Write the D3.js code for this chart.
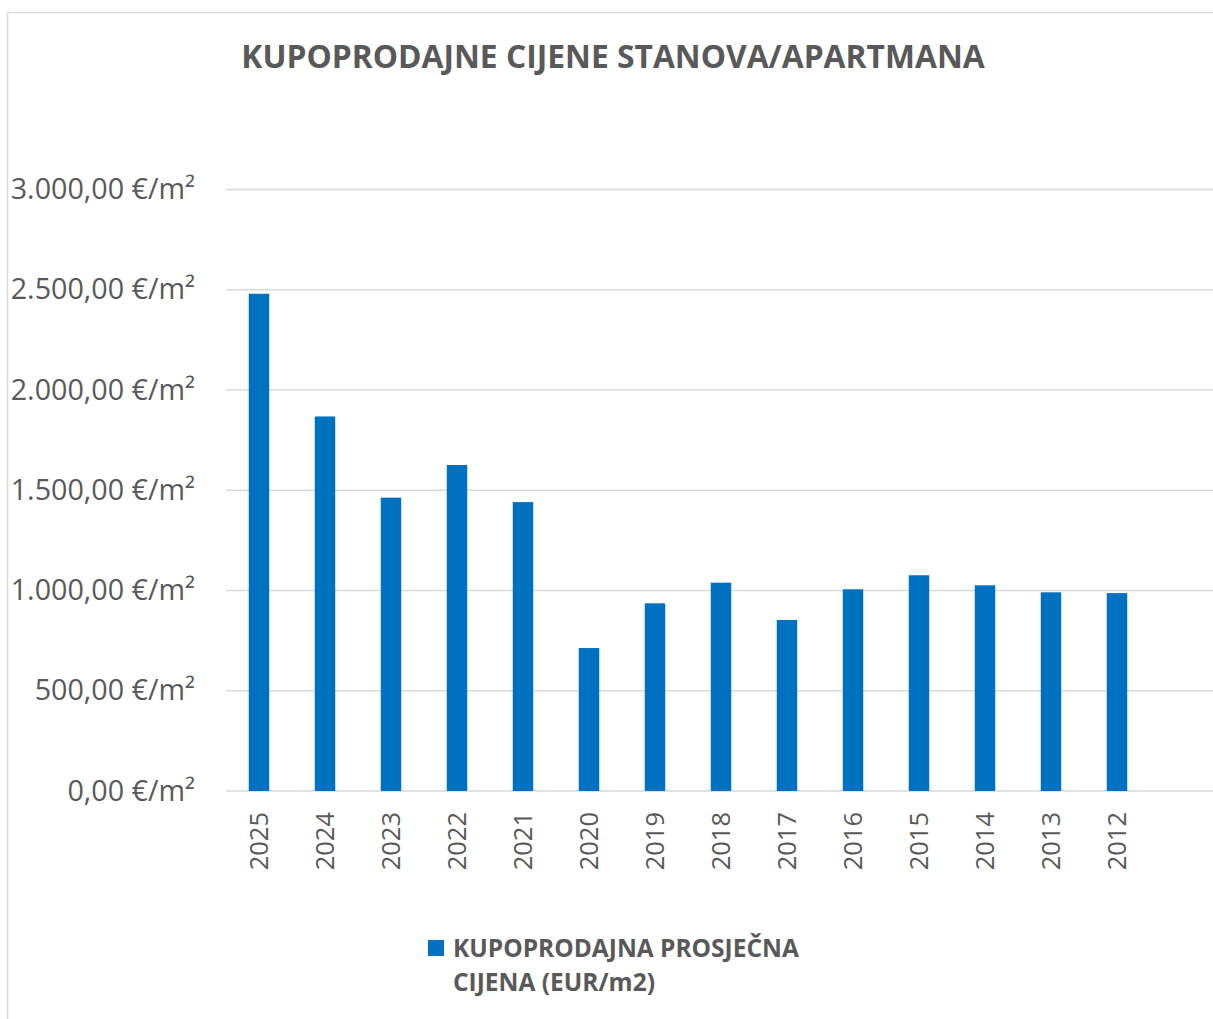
<!DOCTYPE html>
<html>
<head>
<meta charset="utf-8">
<script src="https://cdn.jsdelivr.net/npm/d3@7"></script>
<style>
  body { margin: 0; background: #fff; }
  text { font-family: 'Open Sans', sans-serif; fill: #595959; }
</style>
</head>
<body>
<div id="chart"></div>
<script>
const years = ['2025', '2024', '2023', '2022', '2021', '2020', '2019', '2018', '2017', '2016', '2015', '2014', '2013', '2012'];
const prices = [2480, 1868, 1463, 1626, 1441, 713, 936, 1039, 853, 1006, 1076, 1026, 991, 987];
const yTicks = [0, 500, 1000, 1500, 2000, 2500, 3000];
const title = 'KUPOPRODAJNE CIJENE STANOVA/APARTMANA';
const legendLines = ['KUPOPRODAJNA PROSJEČNA', 'CIJENA (EUR/m2)'];

const width = 1213;
const height = 1019;

const locale = d3.formatLocale({ decimal: ',', thousands: '.', grouping: [3], currency: ['', '€'] });
const fmt = locale.format(',.2f');

const svg = d3.select('#chart')
    .append('svg')
    .attr('width', width)
    .attr('height', height);

// chart frame (only left and top edges visible)
svg.append('path')
    .attr('d', 'M7.5,' + height + 'V12.5H' + width)
    .attr('fill', 'none')
    .attr('stroke', '#d9d9d9')
    .attr('stroke-width', 1.5);

svg.append('text')
    .attr('x', 613)
    .attr('y', 68)
    .attr('text-anchor', 'middle')
    .attr('font-size', 31.8)
    .attr('font-weight', 700)
    .text(title);

const x = d3.scaleBand()
    .domain(years)
    .range([226, 1150])
    .paddingInner(0.69)
    .paddingOuter(0.345);

const y = d3.scaleLinear()
    .domain([0, 3000])
    .range([791, 189.5]);

// gridlines
svg.append('g')
    .selectAll('line')
    .data(yTicks)
    .enter()
    .append('line')
    .attr('x1', 226)
    .attr('x2', width)
    .attr('y1', d => y(d))
    .attr('y2', d => y(d))
    .attr('stroke', '#d9d9d9')
    .attr('stroke-width', 1.5);

// y labels
svg.append('g')
    .selectAll('text')
    .data(yTicks)
    .enter()
    .append('text')
    .attr('x', 195)
    .attr('y', d => y(d) + 9.5)
    .attr('text-anchor', 'end')
    .attr('font-size', 28.7)
    .text(d => fmt(d) + ' €/m²');

// bars
svg.append('g')
    .selectAll('rect')
    .data(prices)
    .enter()
    .append('rect')
    .attr('x', (d, i) => x(years[i]))
    .attr('width', x.bandwidth())
    .attr('y', d => y(d))
    .attr('height', d => y(0) - y(d))
    .attr('fill', '#0070c0');

// x labels, rotated
const xAxis = svg.append('g')
    .attr('transform', 'translate(0,' + 812 + ')')
    .call(d3.axisBottom(x).tickSize(0).tickPadding(0));
xAxis.select('.domain').remove();
xAxis.selectAll('text')
    .attr('transform', 'rotate(-90)')
    .attr('x', 0)
    .attr('y', 0)
    .attr('dy', '0.36em')
    .attr('text-anchor', 'end')
    .attr('font-size', 25.5)
    .attr('fill', '#595959')
    .style('font-family', "'Open Sans', sans-serif");

// legend
const legend = svg.append('g');
legend.append('rect')
    .attr('x', 428)
    .attr('y', 940)
    .attr('width', 16)
    .attr('height', 16)
    .attr('fill', '#0070c0');
legend.selectAll('text')
    .data(legendLines)
    .enter()
    .append('text')
    .attr('x', 453)
    .attr('y', (d, i) => 957 + i * 34)
    .attr('font-size', 24.5)
    .attr('font-weight', 700)
    .text(d => d);
</script>
</body>
</html>
